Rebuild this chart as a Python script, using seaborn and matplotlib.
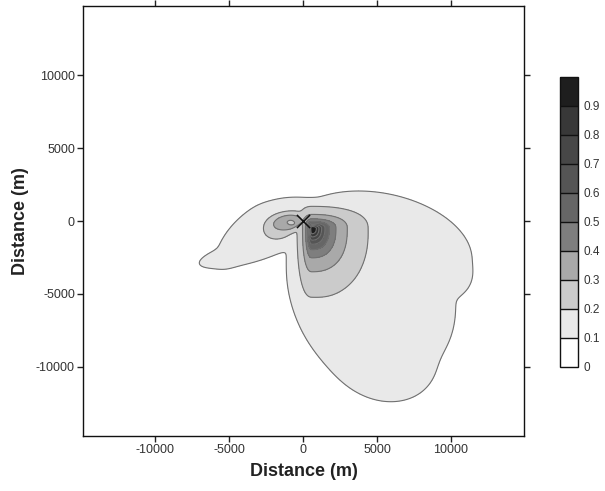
import numpy as np
import matplotlib
matplotlib.use("Agg")
import matplotlib.pyplot as plt
import seaborn as sns

# ---------------------------------------------------------------------------
# Probability classes and their grey shades
levels = [0.0, 0.1, 0.2, 0.3, 0.4, 0.5, 0.6, 0.7, 0.8, 0.9, 1.0]
level_colors = ["#ffffff", "#e9e9e9", "#cbcbcb", "#a9a9a9", "#7e7e7e",
                "#666666", "#555555", "#474747", "#383838", "#1e1e1e"]
tick_labels = ["0", "0.1", "0.2", "0.3", "0.4", "0.5", "0.6", "0.7", "0.8", "0.9"]

# Release point
source_x = [0.0]
source_y = [0.0]

# Main hotspot: centre and directional decay scales (m)
peak_x = 600.0
peak_y = -500.0
peak_scale_left = 145.0
peak_scale_right = 545.0
peak_scale_up = 217.0
peak_scale_down = 680.0
peak_decay = 0.4

# Secondary lobe west of the source: a core, a broader skirt and
# the small depression inside the core
lobe_x = [-1050.0, -1600.0]
lobe_y = [-100.0, -400.0]
lobe_amp = [0.395, 0.26]
lobe_sx = [1250.0, 1500.0]
lobe_sy = [650.0, 1100.0]
lobe_angle = [10.0, 20.0]
dip_x = -880.0
dip_y = -100.0
dip_amp = 0.13
dip_sx = 260.0
dip_sy = 160.0

# Broad low-probability envelope: ellipses traced by the 0.1 isoline
env_cx = [5200.0, 8000.0, 5300.0, 1800.0, -3900.0, -4000.0, -900.0, 9500.0]
env_cy = [-1700.0, -6000.0, -9000.0, -5600.0, -2150.0, -1100.0, 300.0, -3800.0]
env_ax = [6300.0, 2300.0, 3900.0, 2500.0, 3200.0, 2600.0, 2600.0, 1800.0]
env_ay = [3600.0, 3800.0, 3200.0, 5000.0, 800.0, 1120.0, 1300.0, 1600.0]
env_angle = [-12.0, 0.0, -30.0, 20.0, 14.0, 50.0, 3.0, 0.0]
env_amp = 0.16

# Axis settings
x_limits = (-14850, 14950)
y_limits = (-14740, 14740)
axis_ticks = [-10000, -5000, 0, 5000, 10000]
axis_label = "Distance (m)"


def rotate(dx, dy, angle_deg):
    t = np.deg2rad(angle_deg)
    u = dx * np.cos(t) + dy * np.sin(t)
    v = -dx * np.sin(t) + dy * np.cos(t)
    return u, v


def bump(amp, cx, cy, sx, sy, angle):
    u, v = rotate(X - cx, Y - cy, angle)
    return amp * np.exp(-0.5 * ((u / sx) ** 2 + (v / sy) ** 2))


grid = np.linspace(-15000, 15000, 601)
X, Y = np.meshgrid(grid, grid)

parts = []

# hotspot: heavy-tailed, skewed towards the south-east
dx = X - peak_x
dy = Y - peak_y
sx = np.where(dx < 0, peak_scale_left, peak_scale_right)
sy = np.where(dy > 0, peak_scale_up, peak_scale_down)
m = 2.4
d = ((np.abs(dx) / sx) ** m + (np.abs(dy) / sy) ** m) ** (1.0 / m)
parts.append((1.0 + d ** 2) ** -peak_decay * np.exp(-(d / 10.0) ** 8))

# western lobe
core = bump(lobe_amp[0], lobe_x[0], lobe_y[0], lobe_sx[0], lobe_sy[0], lobe_angle[0])
core -= bump(dip_amp, dip_x, dip_y, dip_sx, dip_sy, 0.0)
parts.append(np.clip(core, 0, None))
parts.append(bump(lobe_amp[1], lobe_x[1], lobe_y[1], lobe_sx[1], lobe_sy[1], lobe_angle[1]))

# envelope
k = np.sqrt(2.0 * np.log(env_amp / 0.1))
for cx, cy, ax_, ay_, ang in zip(env_cx, env_cy, env_ax, env_ay, env_angle):
    parts.append(bump(env_amp, cx, cy, ax_ / k, ay_ / k, ang))

p = 10.0
Z = np.sum([c ** p for c in parts], axis=0) ** (1.0 / p)
Z = np.minimum(Z, 1.0)

# ---------------------------------------------------------------------------
sns.set_style("ticks")
plt.rcParams["font.family"] = ["Liberation Sans", "DejaVu Sans"]
plt.rcParams["axes.unicode_minus"] = False

fig = plt.figure(figsize=(6.05, 4.91), dpi=100)
ax = fig.add_axes([83.3 / 605, 1 - 436 / 491, 441 / 605, 430 / 491])

cs = ax.contourf(X, Y, Z, levels=levels, colors=level_colors)
ax.contour(X, Y, Z, levels=levels[1:-1], colors="#707070", linewidths=0.8)

sns.scatterplot(x=source_x, y=source_y, marker="x", s=90, color="#111111",
                linewidth=1.1, ax=ax, legend=False, zorder=5)

ax.set_xlim(*x_limits)
ax.set_ylim(*y_limits)
ax.set_xticks(axis_ticks)
ax.set_yticks(axis_ticks)
ax.set_xticklabels([str(t) for t in axis_ticks])
ax.set_yticklabels([str(t) for t in axis_ticks])
ax.tick_params(direction="out", length=4, width=1, color="#222222",
               top=True, right=True, labeltop=False, labelright=False,
               labelsize=9, labelcolor="#333333", pad=2)
for sp in ax.spines.values():
    sp.set_color("#111111")
    sp.set_linewidth(1.0)
ax.set_xlabel(axis_label, fontsize=13, fontweight="bold", color="#222222", labelpad=5)
ax.set_ylabel(axis_label, fontsize=13, fontweight="bold", color="#222222", labelpad=5)

cax = fig.add_axes([560 / 605, 1 - 366.7 / 491, 18 / 605, 290 / 491])
cb = fig.colorbar(cs, cax=cax, ticks=levels[:-1], drawedges=True)
cb.ax.set_yticklabels(tick_labels)
cb.ax.tick_params(length=0, labelsize=8.5, labelcolor="#333333", pad=4)
cb.outline.set_edgecolor("#111111")
cb.outline.set_linewidth(1.0)
cb.dividers.set_color("#111111")
cb.dividers.set_linewidth(1.0)

fig.savefig("out.png", dpi=100, facecolor="white")
